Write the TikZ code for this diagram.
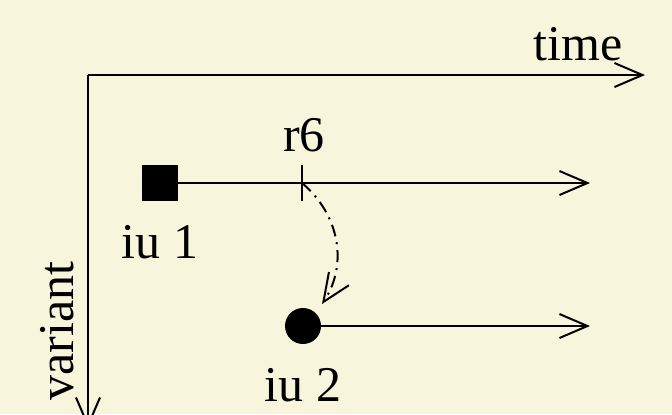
\documentclass[tikz,border=0pt]{standalone}
\usepackage{fontspec}
\setmainfont{Liberation Serif}
\usetikzlibrary{arrows.meta}
\definecolor{bg}{HTML}{F7F5DC}
\begin{document}
\begin{tikzpicture}[x=0.5pt,y=-0.5pt,
  ln/.style={line width=1pt,black},
  tip/.style={-{Straight Barb[length=14pt,width=12pt,line width=1pt]}},
  lbl/.style={font=\fontsize{25}{30}\selectfont,inner sep=0pt}]
\fill[bg] (0,0) rectangle (672,414);
\useasboundingbox (0,0) rectangle (672,414);
% axes
\coordinate (o) at (88,75);
\coordinate (tend) at (645,75);
\coordinate (vend) at (88,428);
\draw[ln,tip] (o) -- (tend);
\draw[ln,tip] (o) -- (vend);
\node[lbl] (time) at (578,44) {time};
\node[lbl,rotate=90] (variant) at (57,331) {variant};
% iu 1
\node[fill=black,minimum size=18pt,inner sep=0pt] (sq) at (160,183) {};
\coordinate (e1) at (590,183);
\draw[ln,tip] (sq) -- (e1);
\coordinate (r6) at (302,183);
\draw[ln] (302,165) -- (302,201);
\node[lbl] (r6l) at (304,135) {r6};
\node[lbl] (iu1) at (160,242) {iu 1};
% iu 2
\node[circle,fill=black,minimum size=18pt,inner sep=0pt] (ci) at (303,326) {};
\coordinate (e2) at (590,326);
\draw[ln,tip] (ci) -- (e2);
\node[lbl] (iu2) at (303,385) {iu 2};
% curved dash-dot
\coordinate (c2) at (322,304);
\draw[ln,tip,dash pattern=on 6pt off 3pt on 1pt off 3pt] (r6) .. controls (340,215) and (348,265) .. (c2);
\end{tikzpicture}
\end{document}
